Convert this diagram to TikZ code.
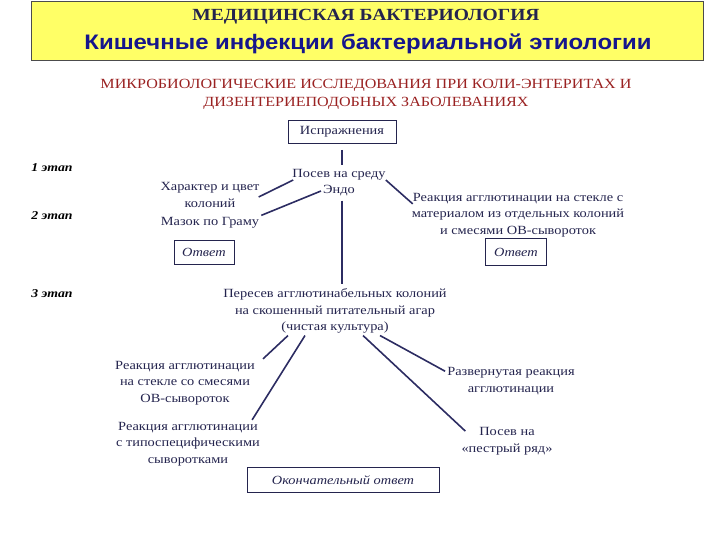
\documentclass[tikz,border=0pt]{standalone}
\usepackage{fontspec}
\setmainfont{Liberation Serif}[FakeStretch=1.15]
\newfontfamily\headsans{Liberation Sans}[FakeStretch=1.14]
\usepackage{tikz}
\usetikzlibrary{positioning}
\definecolor{bannerfill}{HTML}{FFFF66}
\definecolor{inkblue}{HTML}{24244E}
\definecolor{titleblue}{HTML}{16168C}
\definecolor{subred}{HTML}{9A2222}
\definecolor{linkcol}{HTML}{2C2C62}

\begin{document}
\begin{tikzpicture}[x=1pt,y=-1pt,
  txt/.style={text=inkblue,align=center,inner sep=2pt,font=\fontsize{12.5}{16.5}\selectfont},
  box/.style={draw=inkblue,line width=0.8pt,text=inkblue,align=center,minimum height=23pt,font=\fontsize{12.5}{15}\selectfont},
  answer/.style={box,font=\fontsize{12.5}{15}\selectfont\itshape},
  stage/.style={text=black,font=\fontsize{12}{15}\selectfont\bfseries\itshape},
  link/.style={draw=linkcol,line width=1.6pt}]
\useasboundingbox (0,0) rectangle (720,540);
% шапка
\draw[draw=black!70,fill=bannerfill,line width=0.8pt] (31,1) rectangle (703,60);
\node[text=inkblue,font=\fontsize{17}{20}\selectfont\bfseries] (head) at (366,17) {МЕДИЦИНСКАЯ БАКТЕРИОЛОГИЯ};
\node[text=titleblue,font=\fontsize{21}{24}\headsans\bfseries] (title) at (368,44) {Кишечные инфекции бактериальной этиологии};
\node[text=subred,align=center,font=\fontsize{14}{18}\selectfont] (sub) at (366,94)
  {МИКРОБИОЛОГИЧЕСКИЕ ИССЛЕДОВАНИЯ ПРИ КОЛИ-ЭНТЕРИТАХ И\\ДИЗЕНТЕРИЕПОДОБНЫХ ЗАБОЛЕВАНИЯХ};
% этапы
\node[stage] (st1) at (52,168) {1 этап};
\node[stage] (st2) at (52,216) {2 этап};
\node[stage] (st3) at (52,294) {3 этап};
% первый и второй этап
\node[box,minimum width=108pt] (feces) at (342,132) {Испражнения};
\node[txt] (sow) at (339,175) {Посев на среду};
\node[txt] (endo) at (339,191) {Эндо};
\node[txt] (colonies) at (210,195) {Характер и цвет\\колоний};
\node[txt] (gram) at (210,223) {Мазок по Граму};
\node[txt] (glass) at (518,215) {Реакция агглютинации на стекле с\\материалом из отдельных колоний\\и смесями ОВ-сывороток};
\node[answer,minimum width=60pt,minimum height=24pt] (ans1) at (204,252) {Ответ};
\node[answer,minimum width=61pt,minimum height=27pt] (ans2) at (516,252) {Ответ};
% третий этап
\node[txt] (reseed) at (335,311) {Пересев агглютинабельных колоний\\на скошенный питательный агар\\(чистая культура)};
\node[txt] (mix) at (185,383) {Реакция агглютинации\\на стекле со смесями\\ОВ-сывороток};
\node[txt] (typed) at (188,444) {Реакция агглютинации\\с типоспецифическими\\сыворотками};
\node[txt] (wide) at (511,381) {Развернутая реакция\\агглютинации};
\node[txt] (row) at (507,441) {Посев на\\«пестрый ряд»};
\node[answer,minimum width=192pt,minimum height=25pt] (final) at (343,480) {Окончательный ответ};
% связи
\draw[link,shorten <=6pt,shorten >=2pt] (feces.south) -- (feces.south |- sow.north);
\draw[link] ([xshift=-3pt,yshift=-2pt]colonies.east) -- ([xshift=3pt,yshift=-5pt]sow.west);
\draw[link] (gram.north east) -- (endo.west);
\draw[link] ([xshift=-2pt,yshift=-5pt]sow.east) -- ([xshift=3pt,yshift=-13pt]glass.north west);
\draw[link,shorten <=2pt,shorten >=2pt] (feces.south |- endo.south) -- (feces.south |- reseed.north);
\draw[link] ([xshift=-47pt]reseed.south) -- ([xshift=6pt]mix.north east);
\draw[link] ([xshift=-30pt]reseed.south) -- ([xshift=-10pt]typed.north east);
\draw[link] ([xshift=45pt]reseed.south) -- ([yshift=-6pt]wide.north west);
\draw[link] ([xshift=28pt]reseed.south) -- ([xshift=6pt,yshift=-6pt]row.north west);
\end{tikzpicture}
\end{document}
